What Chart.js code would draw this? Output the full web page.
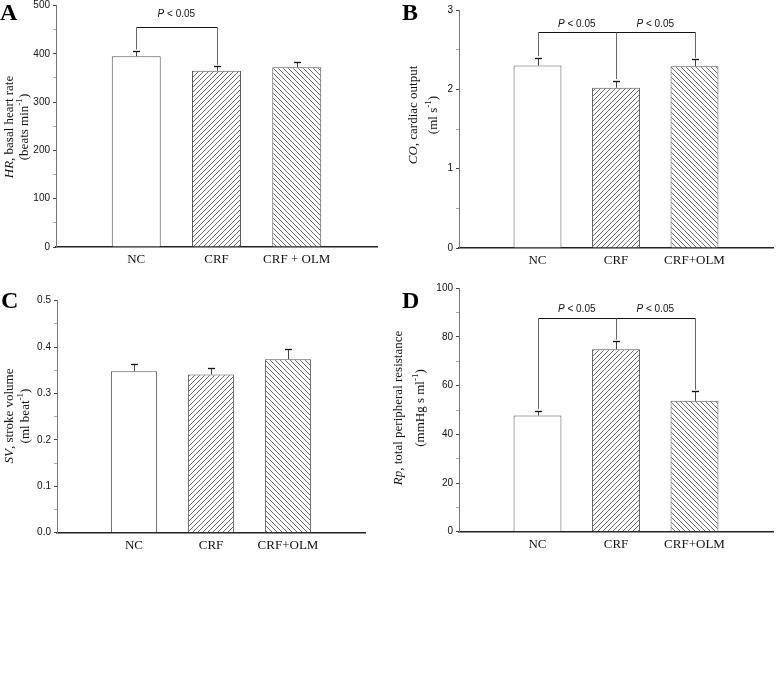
<!DOCTYPE html>
<html>
<head>
<meta charset="utf-8">
<script src="https://cdn.jsdelivr.net/npm/chart.js@4.4.1/dist/chart.umd.min.js"></script>
<style>
  html, body { margin: 0; padding: 0; background: #fff; }
  body { width: 778px; height: 682px; position: relative; overflow: hidden; }
  canvas { position: absolute; }
</style>
</head>
<body>
<canvas id="cA" width="389" height="305" style="left:0px;top:-25px"></canvas>
<canvas id="cB" width="389" height="305" style="left:389px;top:-25px"></canvas>
<canvas id="cC" width="389" height="330" style="left:0px;top:260px"></canvas>
<canvas id="cD" width="389" height="330" style="left:389px;top:260px"></canvas>
<script>
// ---------------- data ----------------
const groupsA = ['NC', 'CRF', 'CRF + OLM'];
const groupsBCD = ['NC', 'CRF', 'CRF+OLM'];

const hrMean = [395, 365, 372];      // beats/min
const hrSem  = [11, 9, 10];
const coMean = [2.30, 2.02, 2.29];   // ml/s
const coSem  = [0.10, 0.09, 0.09];
const svMean = [0.348, 0.341, 0.374]; // ml/beat
const svSem  = [0.015, 0.015, 0.022];
const rpMean = [47.7, 75.0, 53.8];   // mmHg s/ml
const rpSem  = [2.0, 3.3, 3.9];

const hrAxis = [0, 500, 100];   // min, max, major step
const coAxis = [0, 3, 1];
const svAxis = [0, 0.5, 0.1];
const rpAxis = [0, 100, 20];

const sigText = 'P < 0.05';
const sigA = { level: 455, legs: [0, 1], spans: [[0, 1]] };
const sigB = { level: 2.72, legs: [0, 1, 2], spans: [[0, 1], [1, 2]] };
const sigD = { level: 87.8, legs: [0, 1, 2], spans: [[0, 1], [1, 2]] };

// ---------------- styling helpers ----------------
function hatch(dir) {
  const n = 5;
  const c = document.createElement('canvas');
  c.width = n; c.height = n;
  const g = c.getContext('2d');
  g.fillStyle = '#ffffff'; g.fillRect(0, 0, n, n);
  g.fillStyle = '#6a6a6a';
  for (let y = 0; y < n; y++) {
    const x = dir > 0 ? (n - 1 - y) : y;
    g.fillRect(x, y, 1, 1);
  }
  return g.createPattern(c, 'repeat');
}
const fills = ['#ffffff', hatch(1), hatch(-1)];

const SERIF = '"Liberation Serif", "Times New Roman", serif';
const SANS = '"Liberation Sans", Arial, sans-serif';

function fontFor(seg, size) {
  const s = seg.sup ? size * 0.7 : size;
  return (seg.it ? 'italic ' : '') + s + 'px ' + SERIF;
}
function drawTitleLine(ctx, segs, px, py, size) {
  ctx.save();
  ctx.translate(px, py);
  ctx.rotate(-Math.PI / 2);
  ctx.textBaseline = 'middle';
  ctx.textAlign = 'left';
  ctx.fillStyle = '#111';
  let w = 0;
  const ws = segs.map(s => { ctx.font = fontFor(s, size); const m = ctx.measureText(s.t).width; w += m; return m; });
  let x = -w / 2;
  segs.forEach((s, i) => {
    ctx.font = fontFor(s, size);
    ctx.fillText(s.t, x, s.sup ? -size * 0.38 : 0);
    x += ws[i];
  });
  ctx.restore();
}

const specs = {};

const overlay = {
  id: 'overlay',
  afterDatasetsDraw(chart) {
    const sp = specs[chart.canvas.id];
    if (!sp) return;
    const ctx = chart.ctx;
    const xs = chart.scales.x, ys = chart.scales.y;
    ctx.save();
    // error bars
    sp.mean.forEach((m, i) => {
      const x = Math.round(xs.getPixelForValue(i + 1)) + 0.5;
      const y0 = ys.getPixelForValue(m);
      const y1 = Math.round(ys.getPixelForValue(m + sp.sem[i])) + 0.5;
      ctx.strokeStyle = '#444'; ctx.lineWidth = 1;
      ctx.beginPath(); ctx.moveTo(x, y0); ctx.lineTo(x, y1); ctx.stroke();
      ctx.strokeStyle = '#111'; ctx.lineWidth = 1.3;
      ctx.beginPath(); ctx.moveTo(x - 3.5, y1); ctx.lineTo(x + 3.5, y1); ctx.stroke();
    });
    // significance brackets
    if (sp.sig) {
      const s = sp.sig;
      const yb = Math.round(ys.getPixelForValue(s.level)) + 0.5;
      const xl = s.legs.map(g => Math.round(xs.getPixelForValue(g + 1)) + 0.5);
      ctx.strokeStyle = '#111'; ctx.lineWidth = 1;
      ctx.beginPath(); ctx.moveTo(xl[0], yb); ctx.lineTo(xl[xl.length - 1], yb); ctx.stroke();
      ctx.strokeStyle = '#666';
      s.legs.forEach((g, k) => {
        const ye = ys.getPixelForValue(sp.mean[g] + sp.sem[g]) - 1.5;
        ctx.beginPath(); ctx.moveTo(xl[k], yb); ctx.lineTo(xl[k], ye); ctx.stroke();
      });
      ctx.fillStyle = '#111';
      ctx.textBaseline = 'middle';
      s.spans.forEach(([a, b]) => {
        const cx = (xs.getPixelForValue(a + 1) + xs.getPixelForValue(b + 1)) / 2;
        const cy = yb - sp.textGap;
        ctx.font = 'italic 10px ' + SANS;
        const wP = ctx.measureText('P').width;
        ctx.font = '10px ' + SANS;
        const rest = sigText.slice(1);
        const wR = ctx.measureText(rest).width;
        let x = cx - (wP + wR) / 2;
        ctx.textAlign = 'left';
        ctx.font = 'italic 10px ' + SANS; ctx.fillText('P', x, cy);
        ctx.font = '10px ' + SANS; ctx.fillText(rest, x + wP, cy);
      });
    }
    ctx.restore();
  },
  afterDraw(chart) {
    const sp = specs[chart.canvas.id];
    if (!sp) return;
    const ctx = chart.ctx;
    ctx.save();
    sp.title.forEach(l => drawTitleLine(ctx, l.segs, l.x, sp.titleY, 13));
    ctx.fillStyle = '#000';
    ctx.font = 'bold 24px ' + SERIF;
    ctx.textBaseline = 'alphabetic';
    ctx.textAlign = 'left';
    ctx.fillText(sp.letter, sp.letterX, sp.letterY);
    ctx.restore();
  }
};
Chart.register(overlay);

function build(id, groups, mean, sem, axis, area, extra) {
  const canvas = document.getElementById(id);
  const W = canvas.width, H = canvas.height;
  specs[id] = Object.assign({ mean, sem }, extra);
  const [ymin, ymax, step] = axis;
  const dec = step < 1 ? 1 : 0;
  const isMajor = v => Math.abs(v / step - Math.round(v / step)) < 1e-6;
  const labels = [''].concat(groups, ['']);
  const data = [null].concat(mean, [null]);
  new Chart(canvas, {
    type: 'bar',
    data: {
      labels,
      datasets: [{
        data,
        backgroundColor: [null].concat(fills, [null]),
        borderColor: '#555',
        borderWidth: 1,
        barPercentage: area.bar,
        categoryPercentage: 1
      }]
    },
    options: {
      responsive: false,
      animation: false,
      devicePixelRatio: 1,
      events: [],
      layout: { padding: { left: 0, top: area.top, right: W - area.right, bottom: 0 } },
      plugins: { legend: { display: false }, tooltip: { enabled: false }, title: { display: false } },
      scales: {
        x: {
          type: 'category',
          offset: false,
          grid: { display: false, drawTicks: false },
          border: { display: true, color: '#222', width: 1.5 },
          ticks: { color: '#111', font: { family: SERIF, size: 13 }, padding: 5, autoSkip: false, maxRotation: 0 },
          afterFit: s => { s.height = H - area.bottom; }
        },
        y: {
          min: ymin, max: ymax,
          grid: {
            display: true, drawOnChartArea: false, drawTicks: true, tickLength: 3,
            tickColor: c => (c.tick && isMajor(c.tick.value)) ? '#444' : '#aaa'
          },
          border: { display: true, color: '#777', width: 1 },
          ticks: {
            stepSize: step / 2,
            color: '#111',
            font: { family: SANS, size: 10 },
            padding: 3,
            callback: v => isMajor(v) ? Number(v).toFixed(dec) : ''
          },
          afterFit: s => { s.width = area.left; }
        }
      }
    }
  });
}

build('cA', groupsA, hrMean, hrSem, hrAxis,
  { left: 56, right: 377, top: 30.5, bottom: 272, bar: 0.61 },
  { sig: sigA, textGap: 13, letter: 'A', letterX: 0, letterY: 44.5, titleY: 152,
    title: [
      { x: 10, segs: [{ t: 'HR', it: true }, { t: ', basal heart rate' }] },
      { x: 25, segs: [{ t: '(beats min' }, { t: '-1', sup: true }, { t: ')' }] }
    ] });

build('cB', groupsBCD, coMean, coSem, coAxis,
  { left: 70, right: 388, top: 35, bottom: 273, bar: 0.61 },
  { sig: sigB, textGap: 8, letter: 'B', letterX: 13, letterY: 45, titleY: 140,
    title: [
      { x: 25, segs: [{ t: 'CO', it: true }, { t: ', cardiac output' }] },
      { x: 45, segs: [{ t: '(ml s' }, { t: '-1', sup: true }, { t: ')' }] }
    ] });

build('cC', groupsBCD, svMean, svSem, svAxis,
  { left: 57, right: 365, top: 40.7, bottom: 272.7, bar: 0.6 },
  { sig: null, letter: 'C', letterX: 1, letterY: 48, titleY: 156,
    title: [
      { x: 10, segs: [{ t: 'SV', it: true }, { t: ', stroke volume' }] },
      { x: 26, segs: [{ t: '(ml beat' }, { t: '-1', sup: true }, { t: ')' }] }
    ] });

build('cD', groupsBCD, rpMean, rpSem, rpAxis,
  { left: 70, right: 388, top: 28.3, bottom: 271.7, bar: 0.61 },
  { sig: sigD, textGap: 9, letter: 'D', letterX: 13, letterY: 48, titleY: 148,
    title: [
      { x: 10, segs: [{ t: 'Rp', it: true }, { t: ', total peripheral resistance' }] },
      { x: 32, segs: [{ t: '(mmHg s ml' }, { t: '-1', sup: true }, { t: ')' }] }
    ] });
</script>
</body>
</html>
